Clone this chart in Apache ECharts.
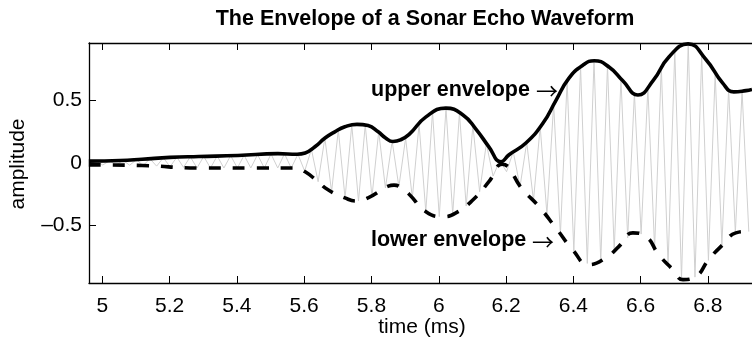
<!DOCTYPE html>
<html>
<head>
<meta charset="utf-8">
<script src="https://cdn.jsdelivr.net/npm/echarts@6/dist/echarts.min.js"></script>
<style>
  html, body { margin: 0; padding: 0; background: #fff; }
  #chart { width: 752px; height: 337px; }
</style>
</head>
<body>
<div id="chart"></div>
<script>
// Axis ticks
const timeTicks = [5, 5.2, 5.4, 5.6, 5.8, 6, 6.2, 6.4, 6.6, 6.8];
const ampTicks = [-0.5, 0, 0.5];
const ampTickLabels = ['\u20130.5', '0', '0.5'];
const timeRange = [4.9605, 6.931];
const ampRange = [-0.962, 0.962];

// Upper envelope (time in ms, amplitude)
const upperT = [4.960, 5.053, 5.118, 5.201, 5.287, 5.403, 5.522, 5.579, 5.603, 5.632, 5.662, 5.691, 5.721, 5.757,
  5.790, 5.820, 5.842, 5.864, 5.886, 5.912, 5.962, 6.021, 6.072, 6.111, 6.149, 6.185, 6.209, 6.259, 6.310, 6.348,
  6.387, 6.429, 6.462, 6.506, 6.547, 6.592, 6.637, 6.684, 6.741, 6.794, 6.844, 6.877, 6.913, 6.931];
const upperV = [0.015, 0.02, 0.03, 0.045, 0.052, 0.06, 0.075, 0.07, 0.08, 0.13, 0.2, 0.25, 0.29, 0.31,
  0.30, 0.25, 0.20, 0.172, 0.185, 0.23, 0.37, 0.44, 0.385, 0.27, 0.13, 0.01, 0.066, 0.16, 0.32, 0.50,
  0.68, 0.785, 0.82, 0.77, 0.66, 0.545, 0.66, 0.85, 0.955, 0.83, 0.64, 0.57, 0.58, 0.59];

// Lower envelope (time in ms, amplitude)
const lowerT = [4.960, 5.118, 5.287, 5.439, 5.573, 5.603, 5.641, 5.671, 5.721, 5.757, 5.790, 5.831, 5.850, 5.867,
  5.887, 5.912, 5.962, 6.012, 6.051, 6.102, 6.149, 6.188, 6.250, 6.298, 6.348, 6.398, 6.446, 6.497, 6.535,
  6.577, 6.616, 6.654, 6.696, 6.726, 6.764, 6.802, 6.844, 6.883, 6.913, 6.931];
const lowerV = [-0.015, -0.02, -0.04, -0.04, -0.04, -0.07, -0.15, -0.215, -0.28, -0.305, -0.28, -0.215, -0.185, -0.177,
  -0.195, -0.25, -0.39, -0.43, -0.40, -0.295, -0.15, -0.01, -0.215, -0.35, -0.52, -0.695, -0.815, -0.76, -0.67,
  -0.56, -0.59, -0.735, -0.855, -0.935, -0.91, -0.775, -0.655, -0.56, -0.55, -0.55];

// Echo waveform: carrier sampled at its extremes (first trough time, carrier period in ms)
const waveStart = 4.9615;
const wavePeriod = 0.04;
const waveTroughs = [-0.015, -0.016, -0.017, -0.018, -0.02, -0.025, -0.03, -0.035, -0.04, -0.04,
  -0.04, -0.04, -0.04, -0.04, -0.04, -0.04, -0.065, -0.15, -0.23, -0.28,
  -0.305, -0.27, -0.2, -0.19, -0.28, -0.39, -0.43, -0.41, -0.345, -0.23,
  -0.105, -0.07, -0.19, -0.3, -0.41, -0.575, -0.705, -0.805, -0.79, -0.7,
  -0.6, -0.57, -0.68, -0.82, -0.925, -0.915, -0.78, -0.66, -0.56, -0.55];
const wavePeaks = [0.017, 0.018, 0.021, 0.027, 0.034, 0.042, 0.047, 0.05, 0.053, 0.056,
  0.059, 0.062, 0.067, 0.072, 0.074, 0.07, 0.11, 0.2, 0.265, 0.305,
  0.305, 0.25, 0.175, 0.2, 0.31, 0.41, 0.44, 0.40, 0.30, 0.155,
  0.02, 0.09, 0.165, 0.29, 0.47, 0.655, 0.77, 0.82, 0.78, 0.675,
  0.56, 0.60, 0.77, 0.90, 0.955, 0.87, 0.72, 0.59, 0.575];

const pairs = (ts, vs) => ts.map((t, i) => [t, vs[i]]);
const waveData = [];
waveTroughs.forEach((v, k) => {
  waveData.push([waveStart + k * wavePeriod, v]);
  if (k < wavePeaks.length) waveData.push([waveStart + (k + 0.5) * wavePeriod, wavePeaks[k]]);
});

const FONT = 'Liberation Sans, Arial, Helvetica, sans-serif';
const ARROW_FONT = '"Noto Sans CJK JP", "DejaVu Sans", sans-serif';
const chart = echarts.init(document.getElementById('chart'), null, { renderer: 'canvas' });

const axisLineStyle = { color: '#000', width: 1.3 };
const tickStyle = { color: '#000', width: 1 };
chart.setOption({
  animation: false,
  backgroundColor: '#fff',
  grid: { left: 89, right: 0, top: 43, bottom: 54, containLabel: false },
  xAxis: [{
    type: 'value', position: 'bottom', min: timeRange[0], max: timeRange[1],
    axisLine: { show: true, onZero: false, lineStyle: axisLineStyle },
    axisTick: { show: true, inside: true, length: 7, customValues: timeTicks, lineStyle: tickStyle },
    axisLabel: { show: true, customValues: timeTicks, margin: 13, color: '#000', fontSize: 21, fontFamily: FONT,
      formatter: v => String(Math.round(v * 10) / 10) },
    splitLine: { show: false }
  }, {
    type: 'value', position: 'top', min: timeRange[0], max: timeRange[1],
    axisLine: { show: true, onZero: false, lineStyle: axisLineStyle },
    axisTick: { show: true, inside: true, length: 7, customValues: timeTicks, lineStyle: tickStyle },
    axisLabel: { show: false },
    splitLine: { show: false }
  }],
  yAxis: [{
    type: 'value', position: 'left', min: ampRange[0], max: ampRange[1],
    axisLine: { show: true, onZero: false, lineStyle: axisLineStyle },
    axisTick: { show: true, inside: true, length: 7, customValues: ampTicks, lineStyle: tickStyle },
    axisLabel: { show: true, customValues: ampTicks, margin: 7, color: '#000', fontSize: 21, fontFamily: FONT,
      formatter: v => ampTickLabels[ampTicks.findIndex(a => Math.abs(a - v) < 1e-6)] },
    splitLine: { show: false }
  }],
  series: [{
    name: 'echo', type: 'line', data: waveData, showSymbol: false, silent: true,
    lineStyle: { color: '#d0d0d0', width: 1 }, z: 1
  }, {
    name: 'upper envelope', type: 'line', data: pairs(upperT, upperV), showSymbol: false, smooth: 0.5,
    lineStyle: { color: '#000', width: 3.6 }, z: 3
  }, {
    name: 'lower envelope', type: 'line', data: pairs(lowerT, lowerV), showSymbol: false, smooth: 0.5,
    lineStyle: { color: '#000', width: 3.6, type: [12, 12] }, z: 3
  }],
  graphic: [{
    type: 'text', x: 425, y: 19,
    style: { text: 'The Envelope of a Sonar Echo Waveform', font: 'bold 21.5px ' + FONT, fill: '#000',
      align: 'center', verticalAlign: 'middle' }
  }, {
    type: 'text', x: 422, y: 327,
    style: { text: 'time (ms)', font: '21px ' + FONT, fill: '#000', align: 'center', verticalAlign: 'middle' }
  }, {
    type: 'text', x: 18, y: 164, rotation: Math.PI / 2,
    style: { text: 'amplitude', font: '21px ' + FONT, fill: '#000', align: 'center', verticalAlign: 'middle' }
  }, {
    type: 'text', x: 371, y: 90,
    style: { text: 'upper envelope', font: 'bold 21.5px ' + FONT, fill: '#000', align: 'left', verticalAlign: 'middle' }
  }, {
    type: 'text', x: 547, y: 91,
    style: { text: '\u2192', font: '22px ' + ARROW_FONT, fill: '#000', align: 'center', verticalAlign: 'middle' }
  }, {
    type: 'text', x: 371, y: 240,
    style: { text: 'lower envelope', font: 'bold 21.5px ' + FONT, fill: '#000', align: 'left', verticalAlign: 'middle' }
  }, {
    type: 'text', x: 543, y: 242,
    style: { text: '\u2192', font: '22px ' + ARROW_FONT, fill: '#000', align: 'center', verticalAlign: 'middle' }
  }]
});
</script>
</body>
</html>
